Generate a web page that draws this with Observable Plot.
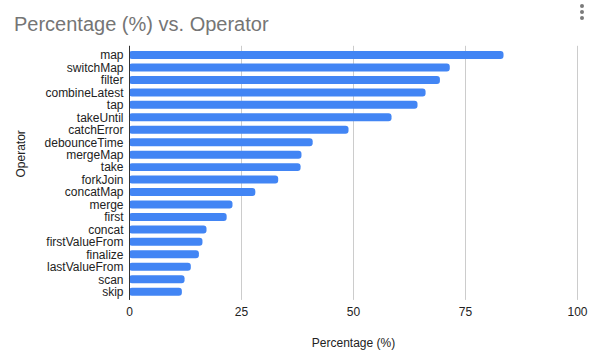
<!DOCTYPE html>
<html>
<head>
<meta charset="utf-8">
<script src="https://cdn.jsdelivr.net/npm/d3@7"></script>
<script src="https://cdn.jsdelivr.net/npm/@observablehq/plot@0.6"></script>
<style>
  html, body { margin: 0; padding: 0; background: #fff; }
  #wrap { position: relative; width: 592px; height: 362px; font-family: "Liberation Sans", Arial, sans-serif; }
  #head { position: relative; width: 592px; height: 40px; }
  #title { position: absolute; left: 14px; top: 14px; font-size: 20px; line-height: 20px; color: #757575; white-space: nowrap; }
  .dot { position: absolute; left: 580px; width: 4px; height: 4px; border-radius: 2px; background: #7a7a7a; }
  svg { display: block; }
</style>
</head>
<body>
<div id="wrap">
  <div id="head">
    <div id="title">Percentage (%) vs. Operator</div>
    <div class="dot" style="top:4px"></div>
    <div class="dot" style="top:10px"></div>
    <div class="dot" style="top:16px"></div>
  </div>
  <div id="chart"></div>
</div>
<script>
const operators = ["map", "switchMap", "filter", "combineLatest", "tap", "takeUntil", "catchError", "debounceTime", "mergeMap", "take", "forkJoin", "concatMap", "merge", "first", "concat", "firstValueFrom", "finalize", "lastValueFrom", "scan", "skip"];
const percentages = [83.6, 71.6, 69.4, 66.2, 64.4, 58.6, 49.0, 41.0, 38.5, 38.3, 33.3, 28.2, 23.1, 21.8, 17.3, 16.4, 15.6, 13.8, 12.4, 11.8];
const xTicks = [0, 25, 50, 75, 100];
const xLabel = "Percentage (%)";
const yLabel = "Operator";

const data = operators.map((op, i) => ({operator: op, pct: percentages[i]}));

const chart = Plot.plot({
  width: 592,
  height: 322,
  marginLeft: 129,
  marginRight: 15,
  marginTop: 8.8,
  marginBottom: 64.1,
  style: {fontFamily: '"Liberation Sans", Arial, sans-serif', fontSize: "12px", color: "#222", background: "#fff"},
  x: {domain: [0, 100], ticks: xTicks, tickSize: 0, tickPadding: 9, label: null},
  y: {domain: operators, round: false, paddingInner: 0.36, paddingOuter: 0.18, tickSize: 0, tickPadding: 6, label: null},
  marks: [
    Plot.ruleX(xTicks, {stroke: "#cccccc", strokeWidth: 1, insetTop: -3, insetBottom: -2}),
    Plot.barX(data, {x: "pct", y: "operator", fill: "#4285F4", rx: 3}),
    Plot.ruleX([0], {stroke: "#333", strokeWidth: 1, insetTop: -3, insetBottom: -2}),
    Plot.text([xLabel], {frameAnchor: "bottom", lineAnchor: "middle", dy: 45, fill: "#222", fontSize: 12}),
    Plot.text([yLabel], {frameAnchor: "left", lineAnchor: "middle", rotate: -90, dx: -108.5, dy: 3.7, fill: "#222", fontSize: 12})
  ]
});
document.getElementById("chart").appendChild(chart);
</script>
</body>
</html>
